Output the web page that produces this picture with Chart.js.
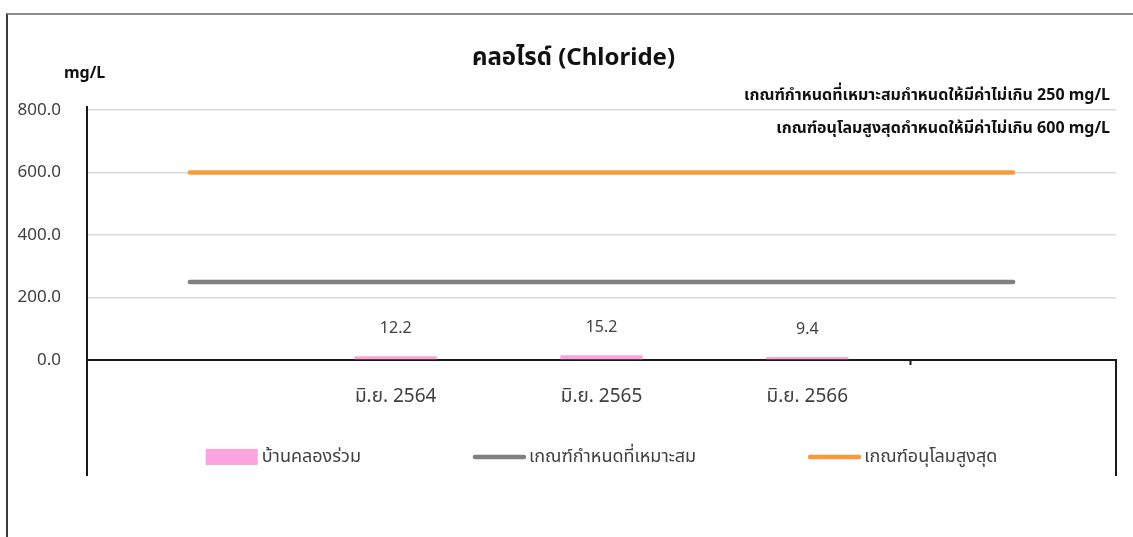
<!DOCTYPE html>
<html lang="th">
<head>
<meta charset="utf-8">
<title>คลอไรด์ (Chloride)</title>
<script src="https://cdn.jsdelivr.net/npm/chart.js@4"></script>
<style>
  html, body { margin: 0; padding: 0; background: #fff; }
  #wrap { position: relative; width: 1133px; height: 537px; overflow: hidden; }
  #frame { position: absolute; left: 6px; top: 13px; right: -3px; bottom: -3px;
           border-left: 2px solid #3a3a3a; border-top: 2px solid #8a8a8a; pointer-events: none; }
  canvas { position: absolute; left: 0; top: 0; }
</style>
</head>
<body>
<div id="wrap"><canvas id="chart" width="1133" height="537"></canvas><div id="frame"></div></div>
<script>
const labels = ['', 'มิ.ย. 2564', 'มิ.ย. 2565', 'มิ.ย. 2566', ''];
const chlorideValues = [null, 12.2, 15.2, 9.4, null];
const suitableLimit = [250, 250, 250, 250, 250];
const maxLimit = [600, 600, 600, 600, 600];
const yTicks = [0, 200, 400, 600, 800];

const seriesNames = ['บ้านคลองร่วม', 'เกณฑ์กำหนดที่เหมาะสม', 'เกณฑ์อนุโลมสูงสุด'];
const titleText = 'คลอไรด์ (Chloride)';
const unitText = 'mg/L';
const notes = [
  'เกณฑ์กำหนดที่เหมาะสมกำหนดให้มีค่าไม่เกิน 250 mg/L',
  'เกณฑ์อนุโลมสูงสุดกำหนดให้มีค่าไม่เกิน 600 mg/L'
];

const FONT = "'Noto Sans', 'Noto Sans Thai', sans-serif";
Chart.defaults.font.family = FONT;
Chart.defaults.color = '#404040';

// legend drawn by hand so the spacing can follow the original
function drawLegend(chart, y) {
  const { ctx, chartArea: a } = chart;
  const box = 52, gap = 4, spacing = 112;
  ctx.font = `18px ${FONT}`;
  const items = chart.data.datasets.map((ds) => ({ ds, w: box + gap + ctx.measureText(ds.label).width }));
  const total = items.reduce((s, it) => s + it.w, 0) + spacing * (items.length - 1);
  let x = (a.left + a.right) / 2 - total / 2;
  ctx.textAlign = 'left';
  ctx.textBaseline = 'middle';
  items.forEach(({ ds, w }) => {
    if (ds.type === 'line') {
      ctx.strokeStyle = ds.borderColor;
      ctx.lineWidth = ds.borderWidth;
      ctx.lineCap = 'round';
      ctx.beginPath();
      ctx.moveTo(x + 2, y);
      ctx.lineTo(x + box - 1, y);
      ctx.stroke();
    } else {
      ctx.fillStyle = ds.backgroundColor;
      ctx.fillRect(x, y - 8, box, 16);
    }
    ctx.fillStyle = '#404040';
    ctx.fillText(ds.label, x + box + gap, y);
    x += w + spacing;
  });
}

// extra axis lines below the plot, title, notes and legend
const decor = {
  id: 'decor',
  afterDraw(chart) {
    const { ctx, chartArea: a } = chart;
    const bottom = a.bottom + 116;
    ctx.save();
    ctx.strokeStyle = '#1a1a1a';
    ctx.lineWidth = 2;
    ctx.beginPath();
    ctx.moveTo(a.left, a.top - 4);
    ctx.lineTo(a.left, bottom);
    ctx.moveTo(a.right, a.bottom);
    ctx.lineTo(a.right, bottom);
    ctx.stroke();

    ctx.fillStyle = '#111';
    ctx.textBaseline = 'middle';
    ctx.textAlign = 'center';
    ctx.font = `bold 24px ${FONT}`;
    ctx.fillText(titleText, chart.width / 2 + 7, 58);

    ctx.textAlign = 'left';
    ctx.font = `bold 16px ${FONT}`;
    ctx.fillText(unitText, a.left - 23, a.top - 37);

    ctx.textAlign = 'right';
    ctx.font = `bold 16px ${FONT}`;
    ctx.fillText(notes[0], a.right - 6, a.top - 15);
    ctx.fillText(notes[1], a.right - 6, a.top + 18);

    drawLegend(chart, a.bottom + 97);
    ctx.restore();
  }
};

const barLabels = {
  id: 'barLabels',
  afterDatasetsDraw(chart) {
    const { ctx } = chart;
    const meta = chart.getDatasetMeta(0);
    ctx.save();
    ctx.font = `16px ${FONT}`;
    ctx.fillStyle = '#404040';
    ctx.textAlign = 'center';
    ctx.textBaseline = 'middle';
    meta.data.forEach((bar, i) => {
      const v = chlorideValues[i];
      if (v == null) return;
      ctx.fillText(v.toFixed(1), bar.x, bar.y - 28);
    });
    ctx.restore();
  }
};

new Chart(document.getElementById('chart'), {
  type: 'bar',
  data: {
    labels,
    datasets: [
      { type: 'bar', label: seriesNames[0], data: chlorideValues, backgroundColor: '#ffa3de',
        barPercentage: 0.4, categoryPercentage: 1, order: 3 },
      { type: 'line', label: seriesNames[1], data: suitableLimit, borderColor: '#808080', backgroundColor: '#808080',
        borderWidth: 4.5, borderCapStyle: 'round', pointRadius: 0, order: 2 },
      { type: 'line', label: seriesNames[2], data: maxLimit, borderColor: '#f9993a', backgroundColor: '#f9993a',
        borderWidth: 4.5, borderCapStyle: 'round', pointRadius: 0, order: 1 }
    ]
  },
  options: {
    responsive: false,
    animation: false,
    layout: { padding: { top: 110, right: 17, bottom: 117, left: 0 } },
    scales: {
      x: {
        grid: { drawOnChartArea: false, tickLength: 5, offset: true,
                tickColor: (c) => c.index === 4 ? '#1a1a1a' : 'rgba(0,0,0,0)', tickWidth: 2 },
        border: { color: '#1a1a1a', width: 2 },
        ticks: { font: { size: 19 }, color: '#404040', padding: 20, maxRotation: 0, autoSkip: false },
        afterFit: (s) => { s.height = 60; }
      },
      y: {
        min: 0, max: 800,
        afterBuildTicks: (s) => { s.ticks = yTicks.map((v) => ({ value: v })); },
        grid: { color: '#d9d9d9', lineWidth: 1.5, drawTicks: false },
        border: { color: '#1a1a1a', width: 2 },
        ticks: { font: { size: 17 }, color: '#404040', padding: 26, callback: (v) => Number(v).toFixed(1) },
        afterFit: (s) => { s.width = 87; }
      }
    },
    plugins: {
      title: { display: false },
      tooltip: { enabled: false },
      legend: { display: false }
    }
  },
  plugins: [barLabels, decor]
});
</script>
</body>
</html>
